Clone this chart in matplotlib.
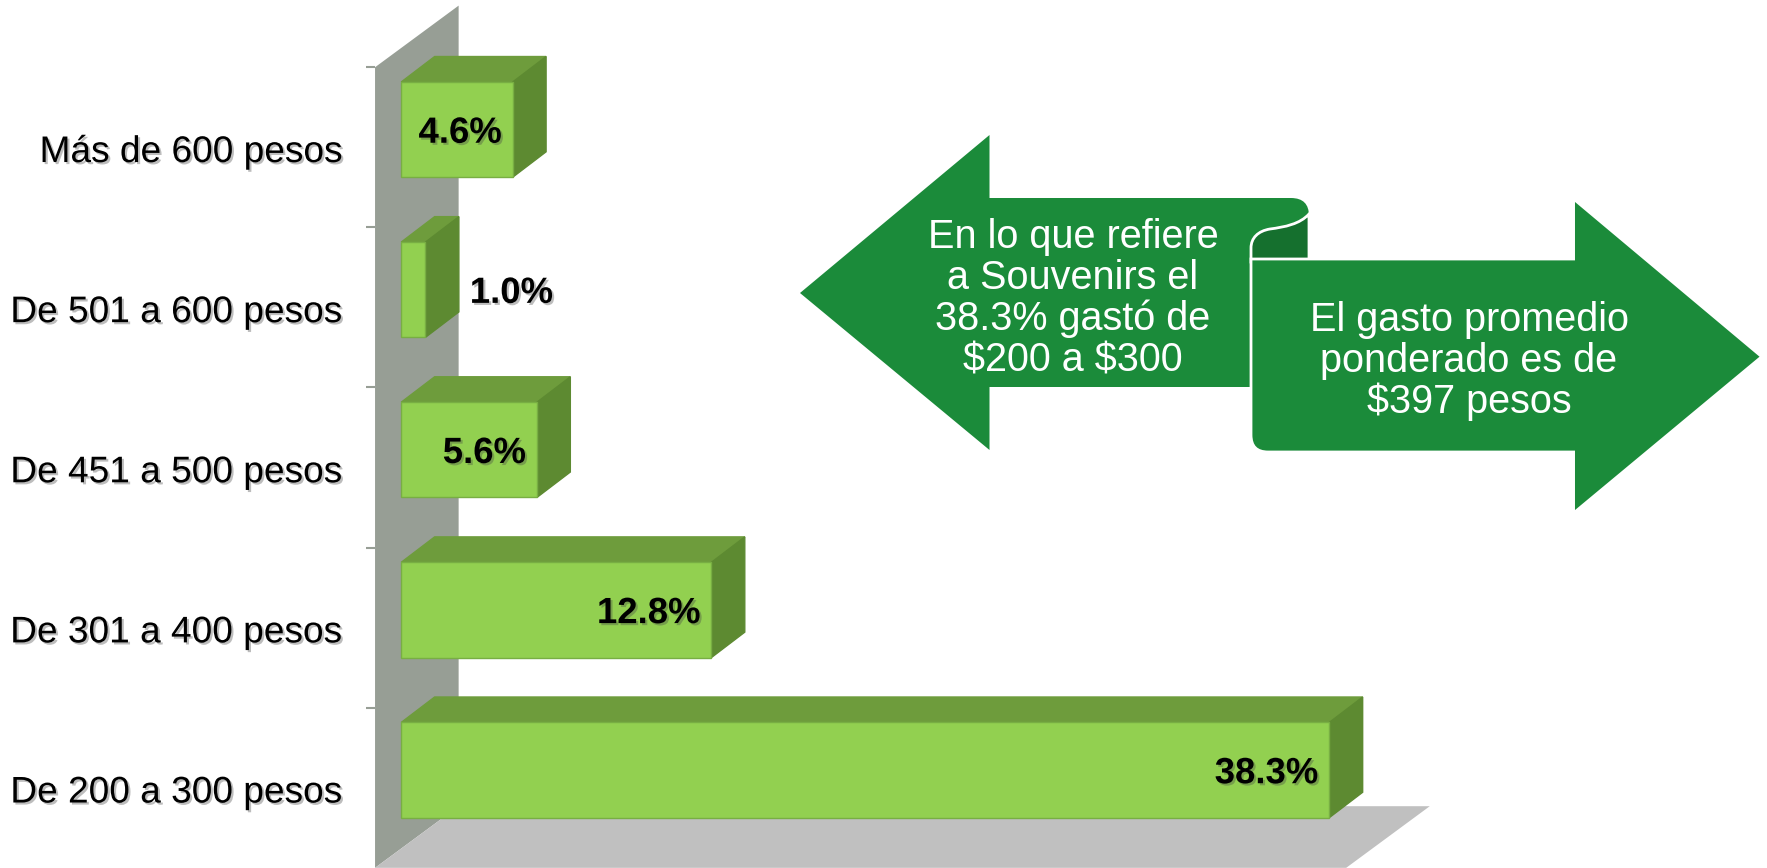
import matplotlib.pyplot as plt
import matplotlib.patheffects as pe
from matplotlib.patches import Polygon, PathPatch
from matplotlib.path import Path

plt.rcParams['font.family'] = ['Liberation Sans', 'DejaVu Sans']
plt.rcParams['text.parse_math'] = False

# data (bottom to top)
categories = ["De 200 a 300 pesos", "De 301 a 400 pesos", "De 451 a 500 pesos",
              "De 501 a 600 pesos", "Más de 600 pesos"]
values = [38.3, 12.8, 5.6, 1.0, 4.6]
value_labels = ["38.3%", "12.8%", "5.6%", "1.0%", "4.6%"]

left_note = ["En lo que refiere", "a Souvenirs el", "38.3% gastó de", "$200 a $300"]
right_note = ["El gasto promedio", "ponderado es de", "$397 pesos"]

# colours
front_c = "#92D050"
top_c = "#6E9C3C"
side_c = "#5D8A31"
edge_c = "#78AE43"
wall_c = "#979E95"
floor_c = "#C0C0C0"
arrow_c = "#1B8B3A"
curl_c = "#15702E"

# 3d look
bar_off, bar_h = -0.187, 0.595
dx, dy = 1.38, 0.159
wall_x, wall_dx, wall_dy = -1.08, 3.45, 0.385
floor_x = 39.0

fig = plt.figure(figsize=(17.67, 8.68), dpi=100)
ax = fig.add_axes([0, 0, 1, 1])
ax.set_xlim(-16.558, 56.367)
ax.set_ylim(-0.501, 4.920)
ax.set_axis_off()

n = len(categories)
# back wall and floor
ax.add_patch(Polygon([(wall_x, -0.5), (wall_x + wall_dx, -0.5 + wall_dy),
                      (wall_x + wall_dx, n - 0.5 + wall_dy), (wall_x, n - 0.5)],
                     closed=True, fc=wall_c, ec="none", zorder=1))
ax.add_patch(Polygon([(wall_x, -0.5), (floor_x, -0.5),
                      (floor_x + wall_dx, -0.5 + wall_dy), (wall_x + wall_dx, -0.5 + wall_dy)],
                     closed=True, fc=floor_c, ec="none", zorder=1))
ax.hlines([i + 0.5 for i in range(n)], wall_x - 0.37, wall_x, color=wall_c, lw=1.5, zorder=1)

shadow = [pe.withSimplePatchShadow(offset=(1.5, -1.5), shadow_rgbFace="#444444", alpha=0.35)]

for i, (cat, v, lab) in enumerate(zip(categories, values, value_labels)):
    b = i + bar_off
    t = b + bar_h
    ax.add_patch(Polygon([(0, b), (v, b), (v, t), (0, t)], closed=True,
                         fc=front_c, ec=edge_c, lw=1, zorder=3))
    ax.add_patch(Polygon([(0, t), (v, t), (v + dx, t + dy), (dx, t + dy)], closed=True,
                         fc=top_c, ec=top_c, lw=1, zorder=2))
    ax.add_patch(Polygon([(v, b), (v + dx, b + dy), (v + dx, t + dy), (v, t)], closed=True,
                         fc=side_c, ec=side_c, lw=1, zorder=2))

    yc = b + bar_h / 2
    if v < 2:
        ax.text(v + dx + 0.45, yc - 0.082, lab, ha="left", va="baseline",
                fontsize=26.3, fontweight="bold", color="black", zorder=5,
                path_effects=shadow)
    else:
        ax.text(v - 0.45, yc - 0.082, lab, ha="right", va="baseline",
                fontsize=26.3, fontweight="bold", color="black", zorder=5,
                path_effects=shadow)

    ax.text(-2.39, i - 0.092, cat, ha="right", va="baseline", fontsize=26.7,
            color="black", zorder=5, path_effects=shadow)

# arrow callouts (pixel coordinates of the slide)
ov = fig.add_axes([0, 0, 1, 1])
ov.set_xlim(0, 1767)
ov.set_ylim(868, 0)
ov.set_axis_off()
ov.patch.set_alpha(0)

M, L, Q, C, Z = Path.MOVETO, Path.LINETO, Path.CURVE3, Path.CURVE4, Path.CLOSEPOLY

left_arrow = Path(
    [(800, 293), (989.5, 135), (989.5, 198), (1291, 198), (1309, 198), (1309, 216),
     (1309, 387), (989.5, 387), (989.5, 450), (800, 293)],
    [M, L, L, L, Q, Q, L, L, L, Z])
ov.add_patch(PathPatch(left_arrow, fc=arrow_c, ec="none", zorder=2))

curl = Path(
    [(1309, 214), (1300, 224), (1285, 227), (1270, 229), (1258, 231), (1251, 238),
     (1251, 248), (1251, 262), (1309, 262), (1309, 214)],
    [M, C, C, C, C, C, C, L, L, Z])
ov.add_patch(PathPatch(curl, fc=curl_c, ec="white", lw=2, zorder=3))

right_arrow = Path(
    [(1251, 259), (1573.6, 259), (1573.6, 199), (1761.7, 356.7), (1573.6, 513),
     (1573.6, 452), (1268, 452), (1251, 452), (1251, 435), (1251, 259)],
    [M, L, L, L, L, L, L, Q, Q, Z])
ov.add_patch(PathPatch(right_arrow, fc=arrow_c, ec="white", lw=2, zorder=4))

for k, line in enumerate(left_note):
    ov.text(1073, 233.5 + 41.3 * k + 14.2, line, ha="center", va="baseline",
            fontsize=28.5, color="white", zorder=6)
for k, line in enumerate(right_note):
    ov.text(1469, 316.5 + 41 * k + 14.2, line, ha="center", va="baseline",
            fontsize=28.5, color="white", zorder=6)

fig.savefig("out.png", dpi=100)
